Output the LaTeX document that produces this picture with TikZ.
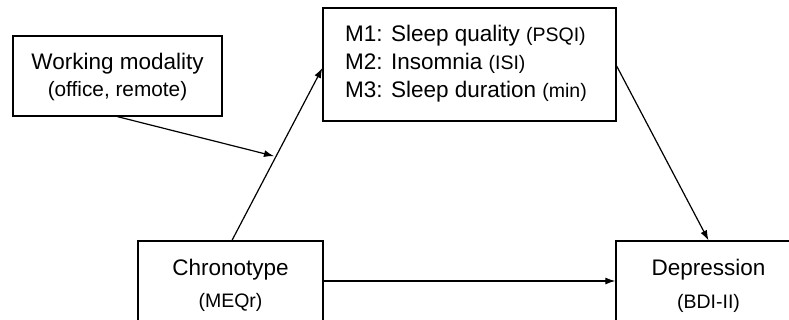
\documentclass[tikz,border=0pt]{standalone}
\usepackage{fontspec}
\setmainfont{Liberation Sans}
\usetikzlibrary{arrows.meta,calc}
\newcommand\bigtxt{\fontsize{22.5}{27}\selectfont}
\newcommand\smalltxt{\fontsize{19.5}{23}\selectfont}
\newcommand\midtxt{\fontsize{20.8}{25}\selectfont}
\begin{document}
\begin{tikzpicture}[x=1pt,y=-1pt,
  box/.style={draw,line width=1.3pt,rectangle,inner sep=0pt},
  txt/.style={anchor=base,inner sep=0pt},
  conn/.style={line width=1.2pt,-{Latex[length=10pt,width=7pt]}}]
\useasboundingbox (0,0) rectangle (789,320);
% boxes
\node[box,minimum width=209pt,minimum height=80pt] (wm) at (117.5,76) {};
\node[box,minimum width=293pt,minimum height=113pt] (m) at (469.5,64.5) {};
\node[box,minimum width=185pt,minimum height=80pt] (chr) at (230.5,281) {};
\node[box,minimum width=185pt,minimum height=80pt] (dep) at (708.5,281) {};
% texts
\node[txt] (wm1) at (117.5,70) {\bigtxt Working modality};
\node[txt] (wm2) at (117.5,97) {\midtxt (office, remote)};
\node[txt,anchor=base west] (m1) at (345,42) {\bigtxt M1: Sleep quality {\smalltxt (PSQI)}};
\node[txt,anchor=base west] (m2) at (345,70) {\bigtxt M2: Insomnia {\smalltxt (ISI)}};
\node[txt,anchor=base west] (m3) at (345,98) {\bigtxt M3: Sleep duration {\smalltxt (min)}};
\node[txt] (chr1) at (230.5,275) {\bigtxt Chronotype};
\node[txt] (chr2) at (230.5,307) {\smalltxt (MEQr)};
\node[txt] (dep1) at (708.5,275) {\bigtxt Depression};
\node[txt] (dep2) at (708.5,308) {\smalltxt (BDI-II)};
% connectors
\coordinate (cs) at ($(chr.north)+(1.5,0)$);
\coordinate (mt) at ($(m.west)+(0,3.5)$);
\draw[conn] (cs) -- (mt);
\path (cs) -- (mt) coordinate[pos=0.486] (mod);
\draw[conn,shorten >=2pt] (wm.south) -- (mod);
\draw[conn] ($(m.east)+(0,1.5)$) -- (dep.north);
\draw[conn] (chr.east) -- (dep.west);
\end{tikzpicture}
\end{document}
